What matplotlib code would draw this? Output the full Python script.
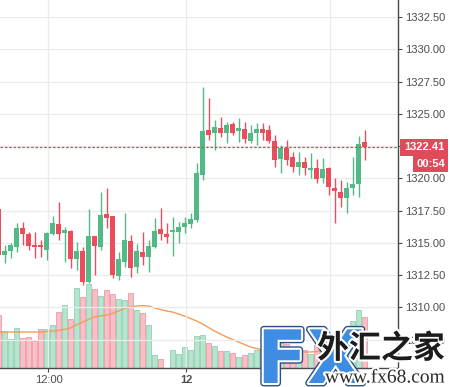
import matplotlib
matplotlib.use("Agg")
import matplotlib.pyplot as plt
import matplotlib.transforms as mtransforms
import matplotlib.patheffects as pe
import numpy as np

plt.rcParams['font.family'] = ['Liberation Sans', 'DejaVu Sans']

# ---------------- data (30-min bars) ----------------
bar_index = list(range(-1, 61))
opens = [1317.63, 1314.07, 1314.38, 1314.69, 1316.16, 1315.69, 1314.84, 1314.84, 1314.46, 1315.69,
         1316.47, 1315.77, 1315.93, 1313.76, 1314.38, 1311.98, 1315.54, 1314.69, 1317.24, 1317.09,
         1312.44, 1313.53, 1315.15, 1313.14, 1314.30, 1313.91, 1314.69, 1316.08, 1315.69, 1315.85,
         1315.85, 1316.24, 1316.47, 1316.78, 1320.26, 1323.75, 1323.52, 1323.91, 1323.52, 1324.21,
         1323.67, 1323.83, 1322.90, 1323.52, 1323.83, 1323.75, 1322.90, 1321.50, 1322.36, 1321.66,
         1320.88, 1321.27, 1320.65, 1320.81, 1320.03, 1320.81, 1319.26, 1318.95, 1318.48, 1319.26,
         1319.57, 1322.82]
closes = [1314.07, 1314.38, 1314.84, 1316.16, 1315.69, 1314.76, 1314.69, 1314.69, 1315.77, 1316.55,
          1315.69, 1316.00, 1313.76, 1314.38, 1311.98, 1315.54, 1314.76, 1317.17, 1316.93, 1312.52,
          1313.76, 1315.23, 1313.06, 1314.38, 1313.91, 1314.76, 1315.93, 1315.69, 1315.46, 1316.00,
          1316.24, 1316.55, 1316.86, 1320.42, 1323.67, 1323.36, 1323.98, 1323.52, 1324.14, 1323.52,
          1323.91, 1323.05, 1323.52, 1323.83, 1323.52, 1322.90, 1321.43, 1322.36, 1321.43, 1320.88,
          1321.27, 1320.81, 1320.81, 1319.95, 1320.73, 1319.33, 1319.03, 1318.48, 1319.26, 1319.57,
          1322.67, 1322.41]
highs = [1317.94, 1314.84, 1314.99, 1316.55, 1316.62, 1315.85, 1315.85, 1315.23, 1315.85, 1317.09,
         1318.17, 1316.24, 1316.00, 1315.07, 1314.69, 1317.63, 1315.54, 1318.95, 1319.26, 1317.09,
         1314.30, 1317.32, 1315.62, 1314.92, 1315.85, 1315.23, 1316.93, 1317.71, 1316.55, 1317.01,
         1316.62, 1317.01, 1317.32, 1321.19, 1327.08, 1326.23, 1324.52, 1324.76, 1324.37, 1324.37,
         1324.68, 1324.37, 1324.14, 1324.29, 1324.29, 1324.14, 1323.36, 1322.59, 1322.98, 1322.05,
         1322.05, 1321.66, 1321.97, 1321.50, 1321.58, 1320.88, 1320.03, 1319.88, 1319.72, 1321.66,
         1323.29, 1323.75]
lows = [1313.84, 1313.45, 1313.84, 1314.30, 1314.84, 1314.46, 1313.84, 1313.91, 1313.68, 1315.62,
        1315.23, 1313.53, 1313.06, 1312.91, 1311.74, 1311.90, 1312.52, 1314.46, 1316.16, 1312.29,
        1312.13, 1313.14, 1312.36, 1312.67, 1313.29, 1312.75, 1314.61, 1315.23, 1314.99, 1313.99,
        1314.99, 1315.77, 1316.16, 1316.62, 1319.88, 1322.98, 1322.20, 1323.21, 1322.74, 1323.36,
        1322.82, 1322.74, 1322.74, 1322.59, 1322.98, 1322.74, 1320.88, 1320.42, 1321.04, 1320.50,
        1320.26, 1320.26, 1320.03, 1319.64, 1319.64, 1318.72, 1316.55, 1317.79, 1317.32, 1318.72,
        1318.56, 1321.43]
volumes = [53, 37, 29, 40, 30, 31, 27, 39, 39, 43, 56, 63, 49, 80, 71, 84, 79, 72, 78, 74,
           69, 68, 75, 58, 55, 43, 13, 9, 0, 18, 14, 21, 18, 32, 33, 25, 22, 17, 17, 15,
           11, 13, 15, 18, 20, 22, 36, 35, 24, 20, 16, 18, 14, 23, 20, 30, 25, 26, 39, 47,
           58, 51]
volume_ma = [36, 36, 36, 36, 36, 36, 36, 36, 36.5, 37, 37.5, 38.5, 40, 43, 46, 48.5, 51, 52, 53, 54.5,
             57, 59.5, 61, 62, 62.3, 62, 60, 58.5, 57, 56, 54, 52, 49.5, 47, 44, 40.5, 37, 34, 31, 28.5,
             26, 23.5, 21, 19.5, 18, 17, 16.5, 16, 16, 16, 16, 16, 16, 16.5, 17, 17.5, 18, 19, 20.5, 22.5,
             24.5, 24.5]
price_ticks = [1307.5, 1310.0, 1312.5, 1315.0, 1317.5, 1320.0, 1322.5, 1325.0, 1327.5, 1330.0, 1332.5]
time_tick_pos = [7.33, 30.33]
time_tick_labels = ["12:00", "12"]
time_grid_pos = [7.33, 30.33, 54.33]
last_price = 1322.41
countdown = "00:54"

# ---------------- style ----------------
UP = '#53b987'
DOWN = '#eb4d5c'
VOL_UP, VOL_UP_EDGE = '#b8e3cf', '#8fd0b2'
VOL_DN, VOL_DN_EDGE = '#f7c0c6', '#f09ca6'
GRID = '#ebebeb'
AXIS = '#4a4a4a'
TXT = '#4d4d4d'

W, H = 450, 387
fig = plt.figure(figsize=(W / 100, H / 100), dpi=100)
fig.patch.set_facecolor('white')
ax_left, ax_right, ax_bottom, ax_top = 0, 398, 19, 387
ax = fig.add_axes([ax_left / W, ax_bottom / H, (ax_right - ax_left) / W, (ax_top - ax_bottom) / H])
axv = ax.twinx()
ax.set_zorder(axv.get_zorder() + 1)
ax.patch.set_visible(False)
axv.patch.set_facecolor('white')

x = np.array(bar_index, dtype=float)
o = np.array(opens); c = np.array(closes); h = np.array(highs); l = np.array(lows)
up = c >= o

ax.set_xlim(-0.75, 65.58)
ax.set_ylim(1305.31, 1333.82)
axv.set_ylim(0, 368)

# volume
vol_colors = [VOL_UP if u else VOL_DN for u in up]
vol_edges = [VOL_UP_EDGE if u else VOL_DN_EDGE for u in up]
axv.bar(x, volumes, width=0.92, color=vol_colors, edgecolor=vol_edges, linewidth=0.6, zorder=2)
axv.plot(x, volume_ma, color='#f39c5c', lw=1.0, zorder=3)
axv.set_yticks([])
for s in axv.spines.values():
    s.set_visible(False)

# grid
for p in price_ticks:
    ax.axhline(p, color=GRID, lw=0.9, zorder=0)
for gx in time_grid_pos:
    ax.axvline(gx, color=GRID, lw=0.9, zorder=0)

# candles
colors = [UP if u else DOWN for u in up]
ax.vlines(x, l, h, colors=colors, lw=1.0, zorder=3)
body = np.maximum(np.abs(c - o), 0.09)
ax.bar(x, body, bottom=np.minimum(o, c), width=0.72, color=colors, zorder=4)

# last price line
ax.axhline(last_price, color='#e0404f', lw=0.9, ls=(0, (2, 1.5)), zorder=5)

# axes styling
ax.spines['top'].set_visible(False)
ax.spines['left'].set_visible(False)
ax.spines['right'].set_color(AXIS)
ax.spines['bottom'].set_color(AXIS)
ax.spines['right'].set_linewidth(1.0)
ax.spines['bottom'].set_linewidth(1.0)
ax.yaxis.tick_right()
ax.set_yticks(price_ticks)
ax.set_yticklabels([f"{p:.2f}" for p in price_ticks])
ax.tick_params(axis='y', length=3, width=0.8, color=AXIS, labelsize=8, labelcolor=TXT, pad=2)
ax.set_xticks(time_tick_pos)
ax.set_xticklabels(time_tick_labels)
ax.tick_params(axis='x', length=3, width=0.8, color=AXIS, labelsize=8, labelcolor=TXT, pad=2)
ax.get_xticklabels()[1].set_fontweight('bold')

# price label and countdown
trans = mtransforms.blended_transform_factory(ax.transAxes, ax.transData)
trans = mtransforms.offset_copy(trans, fig=fig, x=6, y=0, units='dots')
ax.text(1.0, last_price, f"{last_price:.2f}", transform=trans, ha='left', va='center',
        fontsize=8, fontweight='bold', color='white', clip_on=False, zorder=10,
        bbox=dict(boxstyle='square,pad=0.32', fc='#e04a5a', ec='none'))
fig.text(445 / W, 1 - 164 / H, countdown, ha='right', va='center', fontsize=8,
         fontweight='bold', color='white',
         bbox=dict(boxstyle='square,pad=0.3', fc='#e04a5a', ec='none'))

# watermark
halo = [pe.withStroke(linewidth=3, foreground='white')]
fx_eff = [pe.Stroke(linewidth=5, foreground='#2a4f86'),
          pe.Stroke(linewidth=3, foreground='white'),
          pe.Normal()]
fig.text(257 / W, 1 - 383 / H, "FX", fontsize=53, fontweight='bold', color='#3f8de2',
         family='DejaVu Sans', va='baseline', ha='left', path_effects=fx_eff, zorder=20)
fig.text(317 / W, 1 - 349 / H, "外汇之家", fontsize=23, fontweight='bold', color='#1c1c1c',
         family=['Noto Sans CJK SC', 'DejaVu Sans'], va='center', ha='left',
         path_effects=halo, zorder=21)
fig.text(325 / W, 1 - 378 / H, "www.fx68.com", fontsize=14, color='#2a2a2a',
         family='Liberation Serif', va='center', ha='left', path_effects=halo, zorder=21)

fig.savefig('out.png', dpi=100, facecolor='white')
